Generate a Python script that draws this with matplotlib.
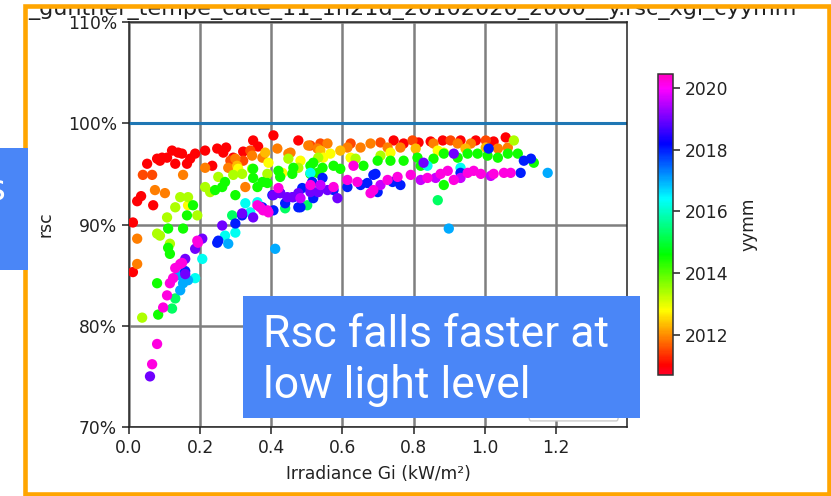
import numpy as np
import matplotlib
matplotlib.use("Agg")
import matplotlib.pyplot as plt
from matplotlib.colors import Normalize
from matplotlib.ticker import PercentFormatter, FormatStrFormatter
from matplotlib.patches import Rectangle, FancyBboxPatch

# ---- data: irradiance (kW/m2), relative rsc, date as decimal year ----
year_2011_0 = 2011.0
g_2011_0 = [.011, .011, .023, .034, .068, .051, .079, .093, .107, .121, .138, .130, .163,
            .186, .214, .234, .248, .265, .273, .293, .321, .349, .363, .406, .476, .744,
            .772, .814, .848, .882, .932, .975, 1.025, 1.059, .172, .149, .087]
rsc_2011_0 = [.853, .902, .923, .928, .919, .960, .965, .966, .966, .973, .971, .960, .960,
              .970, .973, .958, .975, .971, .976, .966, .972, .983, .977, .988, .983, .983,
              .980, .981, .982, .983, .983, .983, .982, .986, .965, .970, .963]

year_2011_5 = 2011.5
g_2011_5 = [.039, .065, .321, .538, .510, .623, .707, .797, .904, 1.003, .341, .285]
rsc_2011_5 = [.949, .949, .963, .980, .978, .980, .981, .983, .983, .983, .973, .963]

year_2011_9 = 2011.9
g_2011_9 = [.023, .023, .073, .101, .152, .214, .279, .299, .327, .346, .375, .417, .448,
            .504, .530, .558, .614, .651, .679, .727, .763, .856, .924, .961, 1.037, 1.065, .454]
rsc_2011_9 = [.886, .861, .934, .931, .949, .956, .956, .965, .937, .968, .966, .975, .970,
              .978, .975, .980, .976, .976, .980, .976, .976, .980, .980, .980, .975, .976, .971]

year_2012_3 = 2012.3
g_2012_3 = [.538, .594, .383, .806, .946, 1.003, .304]
rsc_2012_3 = [.973, .973, .971, .975, .975, .976, .958]

year_2012_8 = 2012.8
g_2012_8 = [.307, .392, .431, .166, .566, .546, .623, .735, .868, .885, .482]
rsc_2012_8 = [.955, .961, .951, .919, .970, .966, .966, .971, .973, .971, .963]

year_2013_4 = 2013.4
g_2013_4 = [.037, .144, .166, .130, .107, .079, .087, .115, .192, .214, .228, .251, .293,
            .318, .346, .389, .448, .476, .532, 1.082, .637, .707]
rsc_2013_4 = [.808, .927, .927, .917, .907, .891, .889, .881, .909, .937, .932, .947, .949,
              .950, .955, .950, .965, .956, .966, .983, .965, .968]

year_2014_5 = 2014.5
g_2014_5 = [.082, .079, .110, .115, .163, .152, .110, .180, .242, .270, .262, .299, .349,
            .361, .375, .420, .459, .510, .518, .544, .510, .530, .575, .594, .659, .699,
            .462, .425, .389, .349, .735, .772, .811, .856, .885, .924, .952, .980, 1.008,
            1.037, 1.065, 1.093, 1.138, .885, .820]
rsc_2014_5 = [.811, .842, .877, .871, .909, .896, .896, .919, .934, .942, .937, .929, .946,
              .937, .942, .953, .950, .950, .961, .956, .958, .951, .958, .955, .958, .963,
              .956, .947, .941, .955, .963, .963, .966, .965, .970, .966, .970, .970, .968,
              .966, .970, .970, .961, .939, .958]

year_2015_3 = 2015.3
g_2015_3 = [.868, .290, .501, .510, .121, .130, .439]
rsc_2015_3 = [.924, .909, .919, .937, .817, .827, .916]

year_2016_3 = 2016.3
g_2016_3 = [.327, .361, .341, .299, .270, .206, .510, .839, .932, .186]
rsc_2016_3 = [.921, .922, .912, .892, .889, .866, .951, .958, .956, .847]

year_2017_0 = 2017.0
g_2017_0 = [.411, .152, .166, .144, .138, 1.177, .899, .279]
rsc_2017_0 = [.876, .842, .845, .835, .850, .951, .896, .881]

year_2018_0 = 2018.0
g_2018_0 = [.251, .299, .318, .375, .403, .439, .476, .487, .515, .544, .248, .425, .462,
            .482, .518, .575, .614, .651, .687, .699, .406, 1.011, 1.101, 1.110, 1.130,
            .670, .693, .763, .741, .932, .158]
rsc_2018_0 = [.884, .901, .909, .917, .929, .921, .917, .936, .942, .946, .882, .931, .927,
              .917, .926, .934, .937, .939, .949, .932, .914, .975, .951, .963, .965,
              .941, .950, .939, .942, .951, .854]

year_2019_0 = 2019.0
g_2019_0 = [.059, .262, .318, .349, .425, .459, .476, .510, .532, .206, .186, .158, .158,
            .445, .510, .558, .586, .406, .913, .828]
rsc_2019_0 = [.750, .899, .911, .907, .931, .927, .931, .932, .932, .886, .876, .851, .866,
              .927, .936, .934, .926, .929, .970, .961]

year_2019_6 = 2019.6
g_2019_6 = [.707, .820, .862, .932, 1.017, .538, .482]
rsc_2019_6 = [.939, .944, .946, .946, .948, .939, .926]

year_2020_2 = 2020.2
g_2020_2 = [.079, .065, .096, .107, .115, .124, .130, .144, .149, .194, .361, .377, .392,
            .420, .510, .192, .575, .614, .642, .631, .679, .369, .389, .687, .727, .755,
            .792, .839, .876, .896, .913, .952, .969, .989, 1.025, 1.054, 1.073]
rsc_2020_2 = [.782, .762, .818, .830, .842, .847, .857, .861, .862, .882, .919, .914, .912,
              .936, .939, .884, .937, .944, .942, .958, .931, .917, .914, .934, .944, .947,
              .949, .946, .950, .953, .944, .951, .953, .950, .950, .951, .951]

cohorts = [
    (year_2011_0, g_2011_0, rsc_2011_0),
    (year_2011_5, g_2011_5, rsc_2011_5),
    (year_2011_9, g_2011_9, rsc_2011_9),
    (year_2012_3, g_2012_3, rsc_2012_3),
    (year_2012_8, g_2012_8, rsc_2012_8),
    (year_2013_4, g_2013_4, rsc_2013_4),
    (year_2014_5, g_2014_5, rsc_2014_5),
    (year_2015_3, g_2015_3, rsc_2015_3),
    (year_2016_3, g_2016_3, rsc_2016_3),
    (year_2017_0, g_2017_0, rsc_2017_0),
    (year_2018_0, g_2018_0, rsc_2018_0),
    (year_2019_0, g_2019_0, rsc_2019_0),
    (year_2019_6, g_2019_6, rsc_2019_6),
    (year_2020_2, g_2020_2, rsc_2020_2),
]

x_ticks = [0.0, 0.2, 0.4, 0.6, 0.8, 1.0, 1.2]
y_ticks = [0.7, 0.8, 0.9, 1.0, 1.1]
cbar_ticks = [2012, 2014, 2016, 2018, 2020]
title = "_gunther_tempe_cate_11_1h21d_20102020_2000__y.rsc_xgi_cyymm"
note = "Rsc falls faster at\nlow light level"

gi = np.concatenate([np.asarray(g, float) for _, g, _ in cohorts])
rsc = np.concatenate([np.asarray(r, float) for _, _, r in cohorts])
yymm = np.concatenate([np.full(len(g), y) for y, g, _ in cohorts])

W, H = 831, 496
fig = plt.figure(figsize=(W / 100, H / 100), dpi=100)
fig.patch.set_facecolor("white")

def fx(px):
    return px / W

def fy(py):
    return 1 - py / H

ax = fig.add_axes([fx(129), fy(427), fx(627) - fx(129), fy(22) - fy(427)])
cax = fig.add_axes([fx(658), fy(375), fx(673) - fx(658), fy(74) - fy(375)])

tick_fs = 12.3
norm = Normalize(vmin=2010.7, vmax=2020.45)
sc = ax.scatter(gi, rsc, c=yymm, cmap="gist_rainbow", norm=norm, s=55,
                linewidths=0, zorder=3)
ax.axhline(1.0, color="#1f77b4", lw=2.2, zorder=2)

ax.set_xlim(0, 1.4)
ax.set_ylim(0.7, 1.1)
ax.set_xticks(x_ticks)
ax.set_yticks(y_ticks)
ax.xaxis.set_major_formatter(FormatStrFormatter("%.1f"))
ax.yaxis.set_major_formatter(PercentFormatter(1.0, decimals=0))
ax.grid(True, color="#7f7f7f", lw=1.8, zorder=1)
ax.tick_params(labelsize=tick_fs, colors="#222222", length=5, width=1.1)
for s in ax.spines.values():
    s.set_color("#222222")
    s.set_linewidth(1.1)
ax.set_xlabel("Irradiance Gi (kW/m²)", fontsize=tick_fs, color="#222222", labelpad=6)
ax.set_ylabel("rsc", fontsize=tick_fs, color="#222222", labelpad=10)

# legend frame sitting in the lower right corner
ax.add_patch(FancyBboxPatch((1.13, 0.712), 0.24, 0.02, boxstyle="round,pad=0.006",
                            transform=ax.transData, facecolor="white",
                            edgecolor="#cccccc", lw=1.0, zorder=4))

cb = fig.colorbar(sc, cax=cax, ticks=cbar_ticks)
cb.ax.tick_params(labelsize=tick_fs, colors="#222222", length=5, width=1.1)
cb.outline.set_edgecolor("#333333")
cb.outline.set_linewidth(1.1)
cb.set_label("yymm", fontsize=tick_fs, color="#222222", labelpad=8)

# chart title, partly hidden under the frame
fig.text(fx(28), fy(15.5), title, fontsize=16.1, color="#222222", va="baseline", ha="left")
fig.patches.append(Rectangle((0, fy(6)), 1, 1 - fy(6), transform=fig.transFigure,
                             facecolor="white", edgecolor="none", zorder=5))

# orange slide frame
fig.patches.append(Rectangle((fx(24.8), fy(494)), fx(829.5) - fx(24.8), fy(5.8) - fy(494),
                             transform=fig.transFigure, facecolor="none",
                             edgecolor="#ffa500", lw=3.3, zorder=6))

# blue callouts
blue = "#4a86f7"
fig.patches.append(Rectangle((0, fy(270)), fx(28), fy(148) - fy(270),
                             transform=fig.transFigure, facecolor=blue,
                             edgecolor="none", zorder=7))
fig.text(fx(6), fy(200), "s", fontsize=26, color="white", ha="right", va="baseline",
         zorder=8)
fig.patches.append(Rectangle((fx(243), fy(418)), fx(640) - fx(243), fy(296) - fy(418),
                             transform=fig.transFigure, facecolor=blue,
                             edgecolor="none", zorder=7))
lines = note.split("\n")
fig.text(fx(263), fy(347), lines[0], fontsize=32, color="white",
         family="Roboto", va="baseline", ha="left", zorder=8)
fig.text(fx(263), fy(398), lines[1], fontsize=32, color="white",
         family="Roboto", va="baseline", ha="left", zorder=8)

fig.savefig("out.png", dpi=100, facecolor="white")
